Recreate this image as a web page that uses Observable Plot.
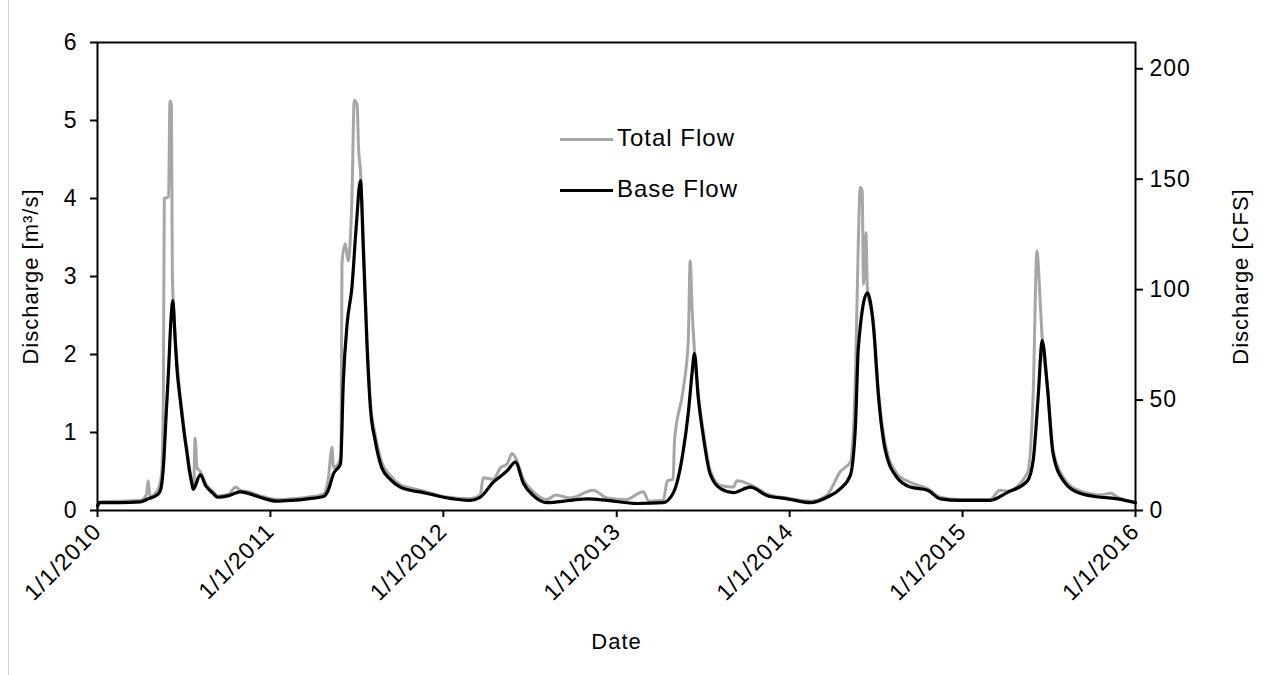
<!DOCTYPE html>
<html><head><meta charset="utf-8">
<script src="https://cdn.jsdelivr.net/npm/d3@7"></script>
<script src="https://cdn.jsdelivr.net/npm/@observablehq/plot@0.6"></script>
<style>
body{margin:0;background:#fff;}
#wrap{position:relative;width:1265px;height:675px;overflow:hidden;background:#fff;}
#edge{position:absolute;left:8px;top:0;width:1px;height:675px;background:#d4d4d4;}
.legline{position:absolute;height:3px;width:53px;}
.legtxt{position:absolute;font-family:"Liberation Sans",Arial,sans-serif;font-size:24px;letter-spacing:1px;line-height:24px;color:#000;white-space:nowrap;}
</style></head><body><div id="wrap"><div id="edge"></div></div>
<script>
const totalDates = ["2010-01-01","2010-01-05","2010-02-18","2010-04-01","2010-04-14","2010-04-18","2010-04-22","2010-05-07","2010-05-16","2010-05-20","2010-05-22","2010-05-31","2010-06-03","2010-06-06","2010-06-08","2010-06-14","2010-06-18","2010-06-23","2010-06-28","2010-07-03","2010-07-09","2010-07-14","2010-07-19","2010-07-23","2010-07-26","2010-07-30","2010-08-06","2010-08-17","2010-09-02","2010-09-11","2010-10-05","2010-10-20","2010-10-29","2010-11-15","2010-12-10","2011-01-15","2011-02-15","2011-03-20","2011-04-23","2011-05-03","2011-05-11","2011-05-14","2011-05-30","2011-06-01","2011-06-08","2011-06-14","2011-06-22","2011-06-27","2011-07-03","2011-07-06","2011-07-10","2011-07-16","2011-07-24","2011-07-31","2011-08-10","2011-08-24","2011-09-11","2011-10-02","2011-10-23","2011-11-20","2012-01-01","2012-02-27","2012-03-19","2012-03-25","2012-04-15","2012-05-01","2012-05-15","2012-05-25","2012-06-01","2012-06-18","2012-07-09","2012-08-07","2012-08-25","2012-09-25","2012-11-12","2012-12-12","2013-01-20","2013-02-26","2013-03-10","2013-04-09","2013-04-18","2013-04-30","2013-05-03","2013-05-21","2013-06-01","2013-06-05","2013-06-09","2013-06-14","2013-06-22","2013-07-03","2013-07-17","2013-08-08","2013-09-04","2013-09-12","2013-10-10","2013-11-15","2013-12-27","2014-02-14","2014-03-21","2014-04-18","2014-05-09","2014-05-20","2014-05-26","2014-05-30","2014-06-03","2014-06-06","2014-06-11","2014-06-14","2014-06-27","2014-07-07","2014-07-22","2014-08-16","2014-09-13","2014-10-19","2014-11-15","2014-12-27","2015-02-28","2015-03-21","2015-04-05","2015-05-18","2015-05-30","2015-06-07","2015-06-13","2015-06-18","2015-06-29","2015-07-11","2015-08-02","2015-08-20","2015-09-06","2015-10-19","2015-11-10","2015-11-24","2016-01-01"];
const totalValues = [0.02,0.11,0.12,0.13,0.20,0.38,0.18,0.25,0.45,1.45,4.00,4.02,5.25,5.20,3.00,2.25,1.90,1.55,1.30,1.04,0.78,0.55,0.38,0.30,0.93,0.55,0.50,0.35,0.24,0.19,0.21,0.30,0.26,0.24,0.19,0.14,0.15,0.17,0.21,0.40,0.81,0.55,0.68,3.17,3.42,3.20,4.00,5.26,5.20,4.65,4.36,3.50,2.20,1.40,0.98,0.62,0.45,0.33,0.29,0.25,0.18,0.15,0.20,0.42,0.40,0.55,0.60,0.73,0.68,0.40,0.24,0.14,0.20,0.16,0.26,0.16,0.14,0.24,0.12,0.13,0.38,0.40,0.90,1.54,2.18,3.20,2.60,2.05,1.50,1.00,0.52,0.32,0.30,0.38,0.33,0.21,0.16,0.12,0.20,0.50,0.62,1.76,3.46,4.14,4.10,2.90,3.56,2.85,2.40,1.55,0.85,0.47,0.36,0.28,0.17,0.14,0.14,0.26,0.25,0.48,1.50,3.33,2.78,2.20,1.62,0.78,0.42,0.30,0.25,0.20,0.22,0.17,0.11];

const baseDates = ["2010-01-01","2010-01-06","2010-02-18","2010-04-01","2010-04-18","2010-05-07","2010-05-14","2010-05-20","2010-05-26","2010-05-31","2010-06-05","2010-06-09","2010-06-14","2010-06-18","2010-06-23","2010-06-28","2010-07-03","2010-07-09","2010-07-14","2010-07-19","2010-07-22","2010-08-06","2010-08-17","2010-09-02","2010-09-11","2010-10-05","2010-10-29","2010-11-15","2010-12-10","2011-01-15","2011-02-15","2011-03-20","2011-04-23","2011-05-03","2011-05-14","2011-05-29","2011-06-04","2011-06-12","2011-06-22","2011-07-01","2011-07-10","2011-07-16","2011-07-24","2011-07-31","2011-08-10","2011-08-24","2011-09-11","2011-10-02","2011-10-23","2011-11-20","2012-01-01","2012-02-27","2012-03-19","2012-04-15","2012-05-15","2012-06-01","2012-06-18","2012-07-09","2012-08-07","2012-09-25","2012-10-31","2012-12-12","2013-02-13","2013-04-09","2013-04-30","2013-05-21","2013-06-01","2013-06-09","2013-06-14","2013-06-22","2013-07-03","2013-07-17","2013-08-08","2013-09-04","2013-10-10","2013-11-15","2013-12-27","2014-02-14","2014-03-21","2014-04-18","2014-05-09","2014-05-20","2014-05-26","2014-06-14","2014-06-27","2014-07-07","2014-07-22","2014-08-16","2014-09-13","2014-10-19","2014-11-15","2014-12-27","2015-02-28","2015-04-05","2015-05-18","2015-05-30","2015-06-10","2015-06-18","2015-06-29","2015-07-11","2015-08-02","2015-09-06","2015-10-19","2015-11-24","2016-01-01"];
const baseValues = [0.06,0.10,0.10,0.11,0.15,0.20,0.26,0.55,1.24,1.80,2.44,2.69,2.18,1.80,1.50,1.24,0.99,0.73,0.51,0.35,0.27,0.46,0.32,0.22,0.17,0.19,0.24,0.22,0.17,0.12,0.13,0.15,0.18,0.26,0.47,0.60,1.67,2.40,2.86,3.63,4.23,3.37,2.10,1.32,0.90,0.55,0.40,0.30,0.26,0.23,0.17,0.13,0.17,0.36,0.51,0.62,0.35,0.19,0.10,0.13,0.15,0.13,0.09,0.10,0.22,0.75,1.25,1.76,2.01,1.45,0.94,0.47,0.28,0.23,0.30,0.19,0.15,0.10,0.17,0.28,0.45,1.10,2.09,2.79,2.35,1.50,0.77,0.42,0.30,0.26,0.15,0.13,0.13,0.23,0.38,0.64,1.50,2.18,1.58,0.73,0.38,0.22,0.17,0.15,0.10];

const leftTicks = [0, 1, 2, 3, 4, 5, 6];
const rightTicksCFS = [0, 50, 100, 150, 200];
const xTickDates = ["2010-01-01","2011-01-01","2012-01-01","2013-01-01","2014-01-01","2015-01-01","2016-01-01"];
const seriesNames = ["Total Flow", "Base Flow"];
const seriesColors = ["#a6a6a6", "#000000"];
const CFS_PER_M3S = 35.3147;

const parse = d3.utcParse("%Y-%m-%d");
const total = totalDates.map((d, i) => ({date: parse(d), v: totalValues[i]}));
const base = baseDates.map((d, i) => ({date: parse(d), v: baseValues[i]}));
const fmt = d3.utcFormat("%-m/%-d/%Y");

const plot = Plot.plot({
  width: 1265,
  height: 675,
  marginLeft: 97,
  marginRight: 130,
  marginTop: 42,
  marginBottom: 165,
  style: {fontFamily: '"Liberation Sans", Arial, sans-serif', fontSize: "23px", letterSpacing: "1px", color: "#000", background: "transparent"},
  x: {type: "utc", domain: [parse(xTickDates[0]), parse(xTickDates[xTickDates.length - 1])]},
  y: {domain: [0, 6]},
  marks: [
    Plot.line(total, {x: "date", y: "v", stroke: seriesColors[0], strokeWidth: 3, curve: "monotone-x", strokeLinejoin: "round"}),
    Plot.line(base, {x: "date", y: "v", stroke: seriesColors[1], strokeWidth: 3.2, curve: "monotone-x", strokeLinejoin: "round"}),
    Plot.frame({stroke: "#000", strokeWidth: 2}),
    Plot.axisY({anchor: "left", ticks: leftTicks, tickFormat: d => String(d), tickSize: 7, tickPadding: 13, strokeWidth: 2, label: null, fontSize: 23}),
    Plot.axisY({anchor: "right", ticks: rightTicksCFS.map(c => c / CFS_PER_M3S), tickFormat: d => String(Math.round(d * CFS_PER_M3S)), tickSize: 7, tickPadding: 7, strokeWidth: 2, label: null, fontSize: 23}),
    Plot.axisX({ticks: xTickDates.map(parse), tickFormat: fmt, tickSize: 7, tickPadding: 10, tickRotate: -45, strokeWidth: 2, label: null, fontSize: 23}),
    Plot.text(["Discharge [m³/s]"], {frameAnchor: "left", textAnchor: "middle", rotate: -90, dx: -67, fontSize: 22}),
    Plot.text(["Discharge [CFS]"], {frameAnchor: "right", textAnchor: "middle", rotate: -90, dx: 105, fontSize: 22}),
    Plot.text(["Date"], {frameAnchor: "bottom", dy: 138, fontSize: 22})
  ]
});
const wrap = document.getElementById("wrap");
plot.style.position = "absolute";
plot.style.left = "0px";
plot.style.top = "0px";
wrap.appendChild(plot);

// legend
const legTops = [137.5, 188.5];
seriesNames.forEach((name, i) => {
  const ln = document.createElement("div");
  ln.className = "legline";
  ln.style.left = "560px";
  ln.style.top = legTops[i] + "px";
  ln.style.background = seriesColors[i];
  wrap.appendChild(ln);
  const tx = document.createElement("div");
  tx.className = "legtxt";
  tx.style.left = "617px";
  tx.style.top = (legTops[i] - 12) + "px";
  tx.textContent = name;
  wrap.appendChild(tx);
});
</script>
</body></html>
